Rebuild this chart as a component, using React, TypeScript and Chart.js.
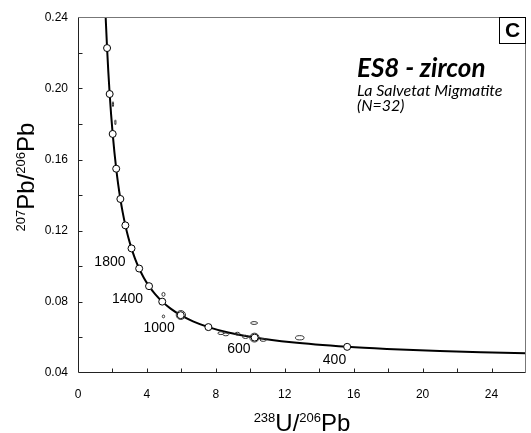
import React, { useEffect, useRef } from "react";
import { Chart, registerables } from "chart.js";

Chart.register(...registerables);

// Concordia curve (238U/206Pb vs 207Pb/206Pb)
const concordiaX = [26.36, 23.379, 20.992, 17.923, 15.621, 12.399, 10.252, 8.718, 7.568, 6.674, 5.959, 5.375, 4.888, 4.476, 4.123, 3.817, 3.55, 3.314, 3.105, 2.917, 2.749, 2.597, 2.459, 2.332, 2.217, 2.111, 2.013, 1.922, 1.838, 1.76, 1.687, 1.619, 1.587];
const concordiaY = [0.05098, 0.05165, 0.05233, 0.0535, 0.0547, 0.05722, 0.0599, 0.06276, 0.0658, 0.06904, 0.0725, 0.07619, 0.08012, 0.08432, 0.08881, 0.0936, 0.09872, 0.10419, 0.11004, 0.11629, 0.12299, 0.13015, 0.13782, 0.14603, 0.15483, 0.16426, 0.17437, 0.1852, 0.19682, 0.20928, 0.22266, 0.23701, 0.24458];

// Age markers (Ma) on the concordia
const markerAges = [400, 600, 800, 1000, 1200, 1400, 1600, 1800, 2000, 2200, 2400, 2600, 2800, 3000];
const markerX = [15.621, 10.252, 7.568, 5.959, 4.888, 4.123, 3.55, 3.105, 2.749, 2.459, 2.217, 2.013, 1.838, 1.687];
const markerY = [0.0547, 0.0599, 0.0658, 0.0725, 0.08012, 0.08881, 0.09872, 0.11004, 0.12299, 0.13782, 0.15483, 0.17437, 0.19682, 0.22266];

// Labelled ages
const labelAges = [1800, 1400, 1000, 600, 400];

// Analyses (error ellipses): centre and half-axes
const ellX = [2.03, 2.17, 4.96, 4.96, 5.97, 8.29, 8.58, 9.25, 9.72, 10.24, 10.75, 10.22, 12.87];
const ellY = [0.1911, 0.1809, 0.0842, 0.0718, 0.0726, 0.0624, 0.0617, 0.0621, 0.0603, 0.0599, 0.0586, 0.0681, 0.0598];
const ellSx = [0.035, 0.035, 0.09, 0.07, 0.27, 0.17, 0.17, 0.14, 0.17, 0.27, 0.18, 0.2, 0.25];
const ellSy = [0.0014, 0.0014, 0.0011, 0.0008, 0.0025, 0.0008, 0.0008, 0.0008, 0.0009, 0.0025, 0.0008, 0.0008, 0.0012];

// Axis ticks
const xTickLabels = [0, 4, 8, 12, 16, 20, 24];
const yTickLabels = [0.04, 0.08, 0.12, 0.16, 0.2, 0.24];
const xTickMarks = [2, 4, 6, 8, 10, 12, 14, 16, 18, 20, 22, 24];
const yTickMarks = [0.06, 0.08, 0.1, 0.12, 0.14, 0.16, 0.18, 0.2, 0.22];

// Texts
const titleMain = "ES8 - zircon";
const titleSub1 = "La Salvetat Migmatite";
const titleSub2 = "(N=32)";
const panelLetter = "C";

// Styling (not data)
const labelDx = [-6, -6, -6, -4, -1];
const labelDy = [14, 13, 13, 12, 13];
const SANS = '"Liberation Sans", Arial, Helvetica, sans-serif';
const HUMAN = 'Lato, "Open Sans", "Noto Sans", sans-serif';

function drawSupText(ctx: CanvasRenderingContext2D, parts: [string, boolean][], cx: number, baseY: number, big: number, small: number, raise: number) {
  let total = 0;
  for (const [t, sup] of parts) {
    ctx.font = `${sup ? small : big}px ${SANS}`;
    total += ctx.measureText(t).width;
  }
  let x = cx - total / 2;
  ctx.textAlign = "left";
  ctx.textBaseline = "alphabetic";
  for (const [t, sup] of parts) {
    ctx.font = `${sup ? small : big}px ${SANS}`;
    ctx.fillText(t, x, sup ? baseY - raise : baseY);
    x += ctx.measureText(t).width;
  }
}

const decor = {
  id: "decor",
  afterDatasetsDraw(chart: any) {
    const { ctx, chartArea: a, scales } = chart;
    const xs = scales.x, ys = scales.y;
    ctx.save();
    ctx.beginPath();
    ctx.rect(a.left, a.top, a.right - a.left, a.bottom - a.top);
    ctx.clip();
    ctx.strokeStyle = "#333";
    ctx.lineWidth = 1;
    for (let i = 0; i < ellX.length; i++) {
      const px = xs.getPixelForValue(ellX[i]);
      const py = ys.getPixelForValue(ellY[i]);
      const rx = Math.abs(xs.getPixelForValue(ellX[i] + ellSx[i]) - px);
      const ry = Math.abs(ys.getPixelForValue(ellY[i] + ellSy[i]) - py);
      ctx.beginPath();
      ctx.ellipse(px, py, Math.max(rx, 0.5), Math.max(ry, 0.5), 0, 0, Math.PI * 2);
      ctx.stroke();
    }
    ctx.restore();
  },
  afterDraw(chart: any) {
    const { ctx, chartArea: a, scales } = chart;
    const xs = scales.x, ys = scales.y;
    ctx.save();
    // frame
    const L = Math.round(a.left) + 0.5, R = Math.round(a.right) - 0.5;
    const T = Math.round(a.top) + 0.5, B = Math.round(a.bottom) - 0.5;
    ctx.lineWidth = 1;
    ctx.strokeStyle = "#777";
    ctx.beginPath();
    ctx.moveTo(L, T); ctx.lineTo(R, T); ctx.lineTo(R, B);
    ctx.stroke();
    ctx.strokeStyle = "#222";
    ctx.beginPath();
    ctx.moveTo(L, T); ctx.lineTo(L, B); ctx.lineTo(R, B);
    ctx.stroke();
    // inward ticks
    ctx.beginPath();
    for (const v of xTickMarks) {
      const p = Math.round(xs.getPixelForValue(v)) + 0.5;
      ctx.moveTo(p, B); ctx.lineTo(p, B - 4);
    }
    for (const v of yTickMarks) {
      const p = Math.round(ys.getPixelForValue(v)) + 0.5;
      ctx.moveTo(L, p); ctx.lineTo(L + 4, p);
    }
    ctx.stroke();

    // age labels
    ctx.fillStyle = "#000";
    ctx.font = `14px ${SANS}`;
    ctx.textAlign = "right";
    ctx.textBaseline = "middle";
    labelAges.forEach((age, i) => {
      const k = markerAges.indexOf(age);
      const px = xs.getPixelForValue(markerX[k]);
      const py = ys.getPixelForValue(markerY[k]);
      ctx.fillText(String(age), px + labelDx[i], py + labelDy[i]);
    });

    // panel letter box
    ctx.strokeStyle = "#000";
    ctx.lineWidth = 1;
    ctx.strokeRect(R - 26, T, 26, 26);
    ctx.font = `bold 21px ${SANS}`;
    ctx.textAlign = "center";
    ctx.textBaseline = "middle";
    ctx.fillText(panelLetter, R - 13, T + 14);

    // annotation
    ctx.textAlign = "left";
    ctx.textBaseline = "alphabetic";
    ctx.font = `italic bold 26px ${HUMAN}`;
    ctx.fillText(titleMain, a.left + 279, a.top + 60);
    ctx.font = `italic 16px ${HUMAN}`;
    ctx.fillText(titleSub1, a.left + 279, a.top + 79);
    ctx.fillText(titleSub2, a.left + 279, a.top + 94);

    // axis titles
    const cx = (a.left + a.right) / 2;
    drawSupText(ctx, [["238", true], ["U/", false], ["206", true], ["Pb", false]], cx, 431, 24, 13, 9);
    ctx.save();
    ctx.translate(33.5, 177);
    ctx.rotate(-Math.PI / 2);
    drawSupText(ctx, [["207", true], ["Pb/", false], ["206", true], ["Pb", false]], 0, 0, 24, 13, 9);
    ctx.restore();

    ctx.restore();
  },
};

export default function App() {
  const ref = useRef<HTMLCanvasElement>(null);
  useEffect(() => {
    const curve = concordiaX.map((x, i) => ({ x, y: concordiaY[i] }));
    const markers = markerX.map((x, i) => ({ x, y: markerY[i] }));
    const tickFont = { family: SANS, size: 12 };
    const chart = new Chart(ref.current as HTMLCanvasElement, {
      type: "scatter",
      data: {
        datasets: [
          {
            type: "scatter",
            data: markers,
            pointRadius: 3.5,
            pointBackgroundColor: "#fff",
            pointBorderColor: "#000",
            pointBorderWidth: 1,
            order: 0,
          } as any,
          {
            type: "line",
            data: curve,
            borderColor: "#000",
            borderWidth: 2,
            pointRadius: 0,
            cubicInterpolationMode: "monotone",
            fill: false,
            order: 1,
          } as any,
        ],
      },
      options: {
        animation: false,
        responsive: false,
        events: [],
        layout: { padding: { top: 12, right: 2, left: 0, bottom: 0 } },
        plugins: { legend: { display: false }, tooltip: { enabled: false } },
        scales: {
          x: {
            type: "linear",
            min: 0,
            max: 26,
            afterBuildTicks: (s: any) => {
              s.ticks = xTickLabels.map((v) => ({ value: v }));
            },
            afterFit: (s: any) => {
              s.height = 60;
            },
            grid: { display: false, drawTicks: false },
            border: { display: false },
            ticks: { font: tickFont, color: "#000", padding: 14, maxRotation: 0, callback: (v: any) => String(v) },
          },
          y: {
            type: "linear",
            min: 0.04,
            max: 0.24,
            afterBuildTicks: (s: any) => {
              s.ticks = yTickLabels.map((v) => ({ value: v }));
            },
            afterFit: (s: any) => {
              s.width = 78;
            },
            grid: { display: false, drawTicks: false },
            border: { display: false },
            ticks: { font: tickFont, color: "#000", padding: 10, callback: (v: any) => Number(v).toFixed(2) },
          },
        },
      } as any,
      plugins: [decor],
    });
    return () => chart.destroy();
  }, []);
  return (
    <div style={{ position: "absolute", left: 0, top: 0, width: 531, height: 433 }}>
      <canvas ref={ref} width={531} height={433} />
    </div>
  );
}
